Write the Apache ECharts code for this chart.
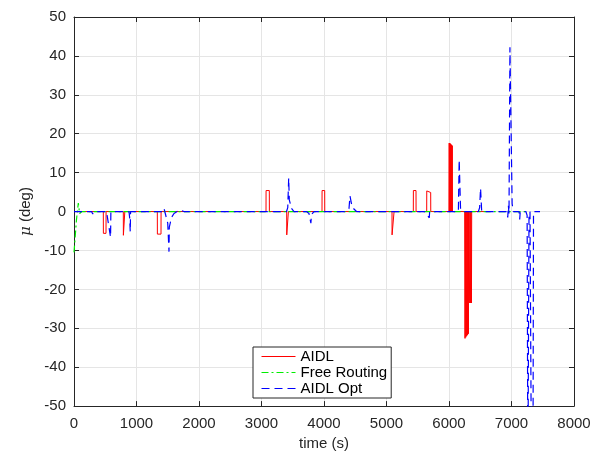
<!DOCTYPE html>
<html><head><meta charset="utf-8">
<script src="https://cdn.jsdelivr.net/npm/echarts@6/dist/echarts.min.js"></script>
<style>html,body{margin:0;padding:0;background:#fff}#c{width:604px;height:456px}</style>
</head><body><div id="c"></div>
<script>
const xTicks = [0,1000,2000,3000,4000,5000,6000,7000,8000];
const yTicks = [-50,-40,-30,-20,-10,0,10,20,30,40,50];
const seriesNames = ['AIDL','Free Routing','AIDL Opt'];

const aidl = [
 [0,0],[469,0],[470,-5.6],[512,-5.6],[513,0],
 [789,0],[790,-6.1],[812,-6.1],[813,0],
 [1333,0],[1334,-5.8],[1392,-5.8],[1393,0],
 [3072,0],[3073,5.4],[3125,5.4],[3126,0],
 [3403,0],[3404,-6.0],[3429,-6.0],[3430,0],
 [3968,0],[3969,5.4],[4011,5.4],[4012,0],
 [5088,0],[5089,-6.0],[5120,-6.0],[5121,0],
 [5429,0],[5430,5.4],[5472,5.4],[5473,0],
 [5643,0],[5644,5.3],[5707,4.9],[5708,0],
 [6000,0],[6003,17.6],[6006,0],[6009,17.6],[6012,0],[6015,17.5],[6018,0],[6021,17.4],[6024,0],
 [6027,17.3],[6030,0],[6033,17.2],[6036,0],[6039,17.1],[6042,0],[6045,17.0],[6048,0],[6051,16.9],[6054,0],
 [6254,0],[6256,-32.6],[6258,0],[6268,0],[6269,-32.3],[6271,0],[6282,0],[6283,-32.0],[6285,0],[6296,0],[6297,-31.7],[6299,0],
 [6310,0],[6311,-31.4],[6313,0],[6330,0],[6331,-23.5],[6333,0],[6345,0],[6346,-23.5],[6348,0],[6358,0],[6359,-23.5],[6362,-23.5],[6363,0],
 [6560,0]
];

const freeRouting = [
 [0,-10.5],[40,-2],[69,2.2],[90,-0.5],[123,0],[7216,0]
];

const aidlOpt = [
 [0,0],[280,0],[300,-0.6],[320,0],[520,0],[530,-1],[585,-6.6],[590,0],
 [880,0],[890,-1.5],[900,-5.2],[905,0],
 [1420,0],[1440,0.8],[1500,-3],[1520,-10.3],[1525,-4],[1560,-1.5],[1600,-0.5],[1650,0],
 [1700,0.4],[1760,0],
 [3400,0],[3420,1],[3435,8.6],[3445,3],[3480,0.8],[3520,0],
 [3720,0],[3760,-0.5],[3790,-3],[3800,-0.8],[3840,0],
 [4350,0],[4400,0.8],[4416,4],[4440,2],[4470,0.8],[4520,0],
 [5610,0],[5685,-1.6],[5690,0],
 [6150,0],[6163,13.3],[6185,0.5],[6200,1],[6230,0],
 [6470,0],[6490,1],[6505,6],[6523,0],
 [6930,0],[6940,-1.5],[6950,1.5],[6960,-0.5],[6975,42.2],[7010,2],[7030,0],
 [7120,0],[7131,-2],[7140,0],
 [7230,0],[7250,-1],[7262,-70],[7280,-1],[7296,0],[7320,-70],[7345,-55],[7352,0],[7456,0]
];

const FONT = '"Liberation Sans", Arial, sans-serif';
const TXT = '#262626';
const chart = echarts.init(document.getElementById('c'), null, {renderer:'canvas'});
const xBase = {type:'value', min:0, max:8000, interval:1000};
const yBase = {type:'value', min:-50, max:50, interval:10};
const lineAx = {show:true, onZero:false, lineStyle:{color:TXT, width:1}};
const tick = {show:true, inside:true, length:5, lineStyle:{color:TXT}};
chart.setOption({
  animation:false,
  backgroundColor:'#fff',
  grid:{left:74, right:30, top:17, bottom:47, show:false},
  legend:{
    data:seriesNames, orient:'vertical', left:253, top:347,
    itemWidth:34, itemHeight:10, itemGap:1,
    itemStyle:{opacity:0},
    lineStyle:{width:1},
    backgroundColor:'#fff', borderColor:'#262626', borderWidth:1, borderRadius:0,
    padding:[2,4,2,8],
    textStyle:{fontFamily:FONT, fontSize:15, color:'#000'}
  },
  xAxis:[
    Object.assign({}, xBase, {position:'bottom',
      name:'time (s)', nameLocation:'middle', nameGap:28,
      nameTextStyle:{fontFamily:FONT, fontSize:15, color:TXT},
      axisLine:lineAx, axisTick:tick,
      axisLabel:{fontFamily:FONT, fontSize:15, color:TXT, margin:10, formatter:v=>String(v)},
      splitLine:{show:true, lineStyle:{color:'#e5e5e5', width:1}}}),
    Object.assign({}, xBase, {position:'top',
      axisLine:lineAx, axisTick:tick,
      axisLabel:{show:false}, splitLine:{show:false}})
  ],
  yAxis:[
    Object.assign({}, yBase, {position:'left',
      name:'{i|μ} (deg)', nameLocation:'middle', nameGap:38,
      nameTextStyle:{fontFamily:FONT, fontSize:15, color:TXT,
        rich:{i:{fontFamily:'"DejaVu Serif", serif', fontStyle:'italic', fontSize:15, color:TXT}}},
      axisLine:lineAx, axisTick:tick,
      axisLabel:{fontFamily:FONT, fontSize:15, color:TXT, margin:8, formatter:v=>String(v)},
      splitLine:{show:true, lineStyle:{color:'#e5e5e5', width:1}}}),
    Object.assign({}, yBase, {position:'right',
      axisLine:lineAx, axisTick:tick,
      axisLabel:{show:false}, splitLine:{show:false}})
  ],
  series:[
    {name:seriesNames[0], type:'line', data:aidl, symbol:'none', clip:true,
      lineStyle:{color:'#ff0000', width:1}, itemStyle:{color:'#ff0000'}, z:3},
    {name:seriesNames[1], type:'line', data:freeRouting, symbol:'none', clip:true,
      lineStyle:{color:'#00ee00', width:1.2, type:[7,3,2,3]}, itemStyle:{color:'#00ee00'}, z:4},
    {name:seriesNames[2], type:'line', data:aidlOpt, symbol:'none', clip:true,
      lineStyle:{color:'#0000ff', width:1.2, type:[8,5]}, itemStyle:{color:'#0000ff'}, z:5}
  ]
});
</script></body></html>
